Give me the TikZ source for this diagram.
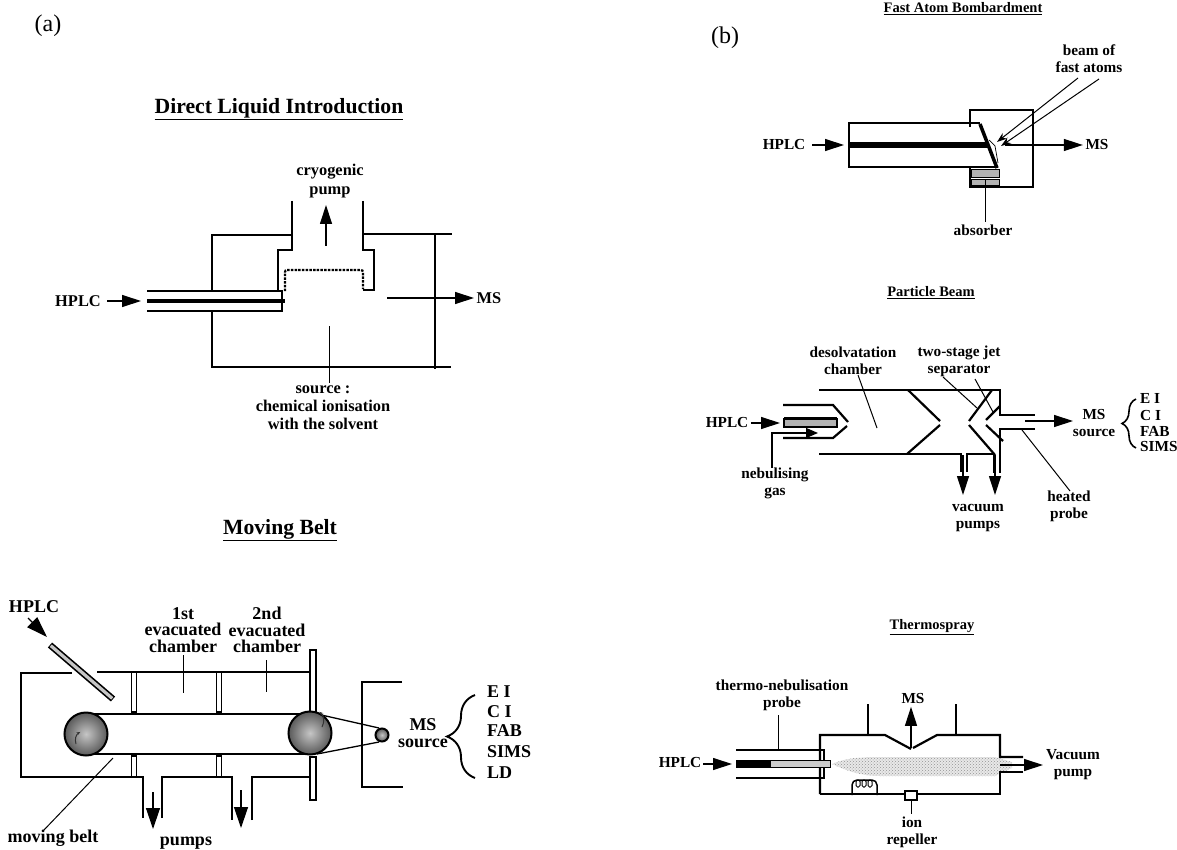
\documentclass[tikz,border=0pt]{standalone}
\usepackage{fontspec}
\setmainfont{Liberation Serif}
\usepackage{xcolor}
\usetikzlibrary{arrows.meta, positioning, calc, patterns, decorations.pathreplacing}
\tikzset{
  lbl/.style={font=\bfseries\fontsize{16.4}{18}\selectfont, align=center, inner sep=2.5pt},
  biglbl/.style={font=\bfseries\fontsize{18}{16.5}\selectfont, align=center, inner sep=2.5pt},
  smalllbl/.style={font=\bfseries\fontsize{15.3}{17}\selectfont, align=center, inner sep=2.5pt},
  titlelbl/.style={font=\bfseries\fontsize{#1}{#1}\selectfont, inner sep=0pt},
  wall/.style={line width=2.2pt, line join=miter},
  leader/.style={line width=1pt},
  flow/.style={line width=1.2pt, -{Triangle[length=19pt,width=12pt]}},
  bigflow/.style={line width=1.3pt, -{Triangle[length=21pt,width=14pt]}},
  bar/.style={draw=black, line width=1.3pt, fill=white},
  roller/.style={draw=black, line width=2pt, inner color=gray!45, outer color=black!65},
  stipple/.style={draw=black, line width=.4pt, fill=gray!60},
  sbrace/.style={line width=1.9pt, decorate, decoration={brace, mirror, amplitude=#1}},
}
\begin{document}
\begin{tikzpicture}[x=1pt,y=-1pt]
  \useasboundingbox (0,0) rectangle (1177,850);
  \node[font=\fontsize{24}{24}\selectfont] (pa) at (48,26) {(a)};
  \node[font=\fontsize{24}{24}\selectfont] (pb) at (725,38) {(b)};

  % Direct liquid introduction
  \node[titlelbl=21.7] (dtitle) at (279,109) {\underline{Direct Liquid Introduction}};
  \draw[wall] (212,290) -- (212,235) -- (292,235);
  \draw[wall] (292,201) -- (292,250) -- (278,250) -- (278,290);
  \draw[wall] (363,201) -- (363,250) -- (374,250) -- (374,290) -- (363,290);
  \draw[wall] (363,234) -- (452,234);
  \draw[wall] (212,312) -- (212,367) -- (451,367);
  \draw[wall] (435,234) -- (435,369);
  \draw[wall, dash pattern=on 2.5pt off 1.2pt, rounded corners=2pt] (285,291) -- (285,270) -- (363,270) -- (363,289);
  \draw[wall] (147,291) -- (282,291) -- (282,311) -- (147,311);
  \draw[line width=3.2pt] (147,301) -- (285,301);
  \node[lbl] (dhplc) at (78,301) {HPLC};
  \coordinate (dtube) at (141,301);
  \draw[flow] (dhplc.east) ++(4,0) -- (dtube);
  \node[lbl] (dpump) at (330,181.5) {cryogenic\\[1pt]pump};
  \coordinate (dpumpin) at (326,246);
  \draw[flow] (dpumpin) -- (326,205);
  \node[lbl] (dms) at (489,298) {MS};
  \coordinate (dout) at (387,298);
  \draw[flow] (dout) -- (dms.west);
  \node[lbl] (dsource) at (323,407.5) {source :\\chemical ionisation\\with the solvent};
  \coordinate (dsrc) at (329,326);
  \draw[leader] (dsrc) -- (dsource.north -| dsrc);

  % Moving belt
  \node[titlelbl=21.7] (mtitle) at (280,530) {\underline{Moving Belt}};
  \draw[wall] (72,673) -- (21,673) -- (21,777) -- (143,777) -- (143,818);
  \draw[wall] (97,672) -- (310,672);
  \draw[wall] (162,818) -- (162,777) -- (232,777) -- (232,820);
  \draw[wall] (252,820) -- (252,777) -- (310,777);
  \foreach \x in {134,219} {
    \draw[bar] (\x-2.5,672) rectangle (\x+2.5,712);
    \draw[bar] (\x-2.5,756) rectangle (\x+2.5,777);
  }
  \draw[bar] (310,650) rectangle (316,712);
  \draw[bar] (310,757) rectangle (316,800);
  % belt and its rollers
  \draw[line width=1.3pt] (85,714) -- (312,714);
  \draw[line width=1.3pt] (85,754) -- (312,754);
  \draw[line width=1.3pt] (317,714) -- (379,728);
  \draw[line width=1.3pt] (317,754) -- (379,742);
  \shade[roller] (86,734) circle (21.5pt);
  \shade[roller] (310,733) circle (21.5pt);
  \shade[roller] (382,735) circle (6.5pt);
  \draw[line width=1pt, black!80, -{Stealth[length=4pt]}] (76,744) arc[start angle=200, end angle=120, radius=10pt];
  \draw[line width=1pt, black!80, -{Stealth[length=4pt]}] (322,727) arc[start angle=-30, end angle=50, radius=12pt];
  % nozzle
  \draw[line width=6.5pt] (50,645) -- (113,699);
  \draw[line width=3.2pt, gray!45, shorten <=1pt, shorten >=1pt] (50,645) -- (113,699);
  \node[biglbl] (mhplc) at (34,607) {HPLC};
  \coordinate (mnoz) at (47,637);
  \draw[bigflow] (28,618) -- (mnoz);
  \draw[wall] (402,682) -- (362,682) -- (362,787) -- (403,787);
  \node[biglbl] (mfirst) at (183,630) {1st\\evacuated\\chamber};
  \node[biglbl] (msecond) at (267,630) {2nd\\evacuated\\chamber};
  \coordinate (mfirstin) at (183,693);
  \coordinate (msecondin) at (266,692);
  \draw[leader] (183,655) -- (mfirstin);
  \draw[leader] (266,660) -- (msecondin);
  \node[biglbl] (mbelt) at (53,838) {moving belt};
  \coordinate (mbeltin) at (113,758);
  \draw[leader] (43,831) -- (mbeltin);
  \node[biglbl] (mpumps) at (186,843) {pumps};
  \draw[bigflow] (153,792) -- (153,829);
  \draw[bigflow] (241,790) -- (241,828);
  \node[biglbl] (mms) at (423,733) {MS\\source};
  \draw[sbrace=28pt] (475,695) -- (475,778);
  \foreach \nm/\y/\txt in {ei/692/E I, ci/712/C I, fab/731/FAB, sims/752/SIMS, ld/773/LD}
    \node[biglbl, anchor=west, inner sep=0pt] (m\nm) at (487,\y) {\txt};

  % Fast atom bombardment
  \node[titlelbl=14.5] (ftitle) at (963,9) {\underline{Fast Atom Bombardment}};
  \draw[wall] (980,123) -- (849,123) -- (849,168);
  \draw[wall] (849,167) -- (998,167);
  \draw[line width=5.5pt] (849,145) -- (988,145);
  \draw[wall] (970,127) -- (970,110) -- (1033,110) -- (1033,187) -- (970,187) -- (970,167);
  \draw[line width=3.5pt] (980,124) -- (997,168);
  \draw[line width=.7pt] (989,140) -- (995,146) -- (998,163);
  \draw[stipple] (971,169) rectangle (999,177);
  \draw[stipple] (971,179) rectangle (999,185);
  \node[smalllbl] (fhplc) at (784,145) {HPLC};
  \coordinate (ftube) at (844,145);
  \draw[flow] (812,145) -- (ftube);
  \node[smalllbl] (fms) at (1097,145) {MS};
  \draw[flow] (1005,145) -- (fms.west);
  \node[smalllbl] (fbeam) at (1089,59) {beam of\\fast atoms};
  \coordinate (fhit) at (997,142);
  \coordinate (fhitb) at (1001,146);
  \draw[leader, -{Stealth[length=10pt,width=7pt]}] (1078,78) -- (fhit);
  \draw[leader, -{Stealth[length=10pt,width=7pt]}] (1099,79) -- (fhitb);
  \node[smalllbl] (fabs) at (983,230) {absorber};
  \coordinate (fabsin) at (985,180);
  \draw[leader] (fabsin) -- (fabs.north -| fabsin);

  % Particle beam
  \node[titlelbl=14.5] (ptitle) at (931,293) {\underline{Particle Beam}};
  \draw[wall] (819,390) -- (1000,390) -- (1000,415) -- (1035,415);
  \draw[wall] (819,454) -- (961,454) -- (961,472);
  \draw[wall] (967,472) -- (967,454) -- (994,454) -- (994,473);
  \draw[wall] (1035,429) -- (1000,429) -- (1000,473);
  % nebuliser
  \draw[wall] (783,405) -- (833,405) -- (848,422);
  \draw[wall] (783,438) -- (833,438) -- (847,426);
  \draw[draw=black, line width=1.2pt, fill=gray!60] (784,419) rectangle (837,427);
  \draw[wall] (784,418.5) -- (837,418.5);
  % skimmers
  \draw[wall] (908,390) -- (940,421);
  \draw[wall] (940,425) -- (907,454);
  \draw[wall] (992,390) -- (969,421);
  \draw[wall] (969,425) -- (995,455);
  \draw[wall] (1000,406) -- (986,420);
  \draw[wall] (986,425) -- (1003,441);
  \node[smalllbl] (phplc) at (727,423) {HPLC};
  \coordinate (pcap) at (780,423);
  \draw[flow] (phplc.east) -- (pcap);
  \node[smalllbl] (pgas) at (775,483) {nebulising\\gas};
  \coordinate (pgasin) at (818,433);
  \draw[line width=1.2pt, -{Triangle[length=12pt,width=10pt]}] (772,468) -- (772,433) -- (pgasin);
  \node[smalllbl] (pdes) at (853,361) {desolvatation\\chamber};
  \coordinate (pdesin) at (877,428);
  \draw[leader] (858,375) -- (pdesin);
  \node[smalllbl] (pjet) at (959,361) {two-stage jet\\separator};
  \coordinate (pjeta) at (977,408);
  \coordinate (pjetb) at (993,412);
  \draw[leader] (943,377) -- (pjeta);
  \draw[leader] (975,379) -- (pjetb);
  \node[smalllbl] (pms) at (1094,423) {MS\\source};
  \coordinate (pout) at (1025,421);
  \draw[flow] (pout) -- (1073,421);
  \draw[sbrace=14pt, line width=1.6pt] (1136,399) -- (1136,448);
  \foreach \nm/\y/\txt in {ei/398/E I, ci/416/C I, fab/431/FAB, sims/447/SIMS}
    \node[smalllbl, anchor=west, inner sep=0pt] (p\nm) at (1140,\y) {\txt};
  \node[smalllbl] (pheat) at (1069,506) {heated\\probe};
  \coordinate (pheatin) at (1022,430);
  \draw[leader] (pheatin) -- (1070,491);
  \node[smalllbl] (pvac) at (978,518) {vacuum\\pumps};
  \draw[flow] (963,455) -- (963,495);
  \draw[flow] (995,455) -- (995,495);

  % Thermospray
  \node[titlelbl=14.5] (ttitle) at (932,627) {\underline{Thermospray}};
  \fill[gray!18] (832,764) .. controls (845,758) and (860,757) .. (880,757) -- (995,757)
    -- (1012,762) -- (1012,768) -- (995,776) -- (880,776) .. controls (860,776) and (845,770) .. (832,764) -- cycle;
  \fill[pattern=crosshatch dots, pattern color=gray!85] (832,764) .. controls (845,758) and (860,757) .. (880,757) -- (995,757)
    -- (1012,762) -- (1012,768) -- (995,776) -- (880,776) .. controls (860,776) and (845,770) .. (832,764) -- cycle;
  \draw[wall] (820,794) -- (820,735) -- (885,735) -- (911,749);
  \draw[wall] (913,748) -- (937,735) -- (1000,735) -- (1000,757) -- (1023,757);
  \draw[wall] (1023,772) -- (1000,772) -- (1000,794) -- (820,794);
  \draw[wall] (736,750) -- (824,750) -- (824,760);
  \draw[wall] (736,778) -- (824,778) -- (824,768);
  \draw[line width=8pt] (736,764) -- (770,764);
  \draw[draw=black, line width=.9pt, fill=gray!40] (770,760.5) rectangle (830,767.5);
  \draw[wall] (868,704) -- (868,735);
  \draw[wall] (956,704) -- (956,735);
  % heater coil and repeller
  \draw[line width=1.5pt, rounded corners=5pt] (852,795) -- (852,780) -- (877,780) -- (877,795);
  \foreach \x in {856,862,868}
    \draw[line width=1pt, rounded corners=1.5pt] (\x,780) rectangle (\x+4,787);
  \draw[draw=black, line width=1.6pt, fill=white] (905,791) rectangle (917,800);
  \node[smalllbl] (thplc) at (680,763) {HPLC};
  \coordinate (tprobe) at (732,764);
  \draw[flow] (703,764) -- (tprobe);
  \node[smalllbl] (tneb) at (782,695.5) {thermo-nebulisation\\probe};
  \coordinate (tnebin) at (778,749);
  \draw[leader] (778,715) -- (tnebin);
  \node[smalllbl] (tms) at (913,699) {MS};
  \coordinate (tcone) at (911,748);
  \draw[flow] (tcone) -- (tms.south -| tcone);
  \node[smalllbl] (tvac) at (1073,765) {Vacuum\\pump};
  \coordinate (texh) at (1000,765);
  \draw[flow] (texh) -- (1043,765);
  \node[smalllbl] (tion) at (912,832.5) {ion\\repeller};
  \coordinate (trep) at (911,800);
  \draw[leader] (trep) -- (tion.north -| trep);
\end{tikzpicture}
\end{document}
